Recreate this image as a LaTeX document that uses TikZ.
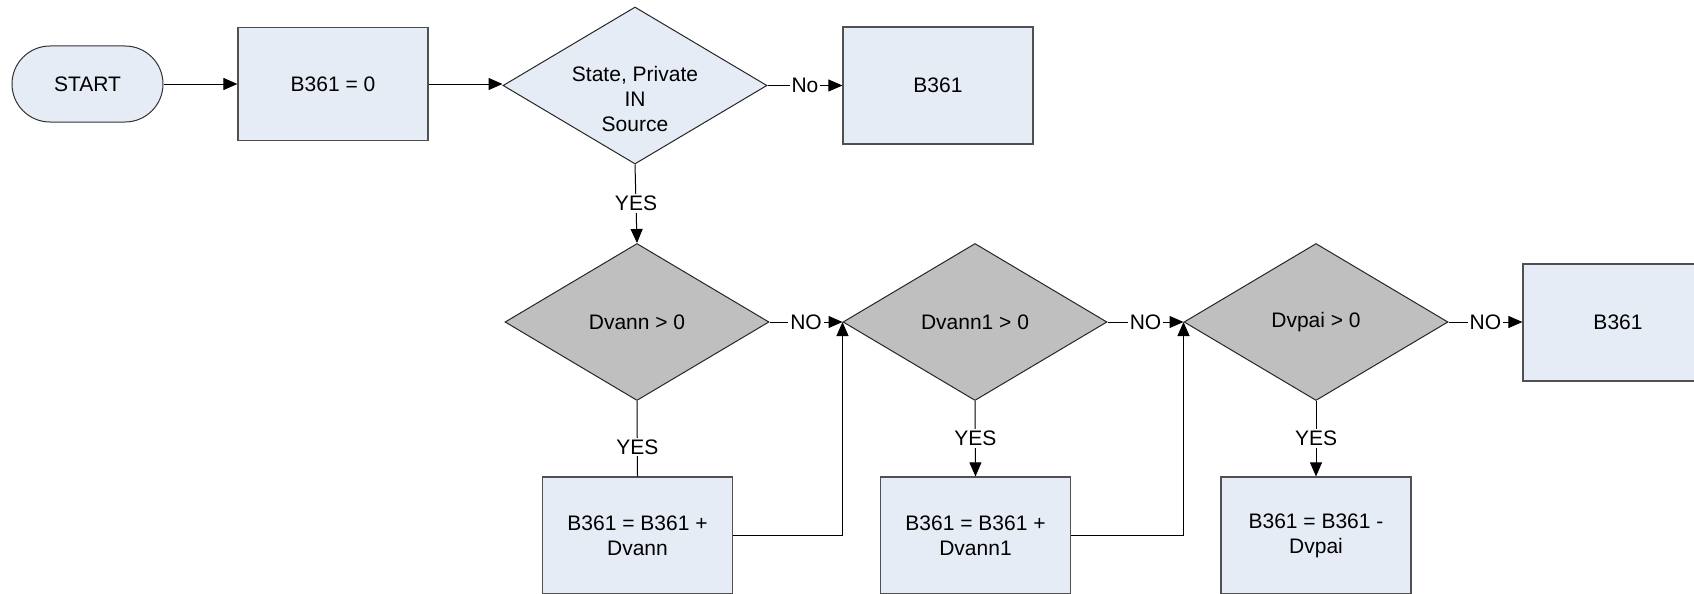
\documentclass[tikz,border=0pt]{standalone}
\usepackage{fontspec}
\setmainfont{Liberation Sans}
\usetikzlibrary{shapes.geometric,arrows.meta}
\definecolor{boxfill}{RGB}{230,236,246}
\definecolor{boxline}{RGB}{80,80,80}
\definecolor{decfill}{RGB}{191,191,191}
\begin{document}
\begin{tikzpicture}[x=1pt,y=-1pt,
  every node/.style={font=\fontsize{21pt}{25pt}\selectfont},
  proc/.style={draw=boxline,line width=1.2pt,fill=boxfill,minimum width=190pt,minimum height=115pt,inner sep=0pt,align=center},
  term/.style={draw=black!80,line width=1pt,fill=boxfill,rounded corners=38pt,minimum width=151pt,minimum height=76pt,inner sep=0pt},
  dec/.style={diamond,draw=black!85,line width=1pt,minimum width=264pt,minimum height=157pt,inner sep=0pt,aspect=1.68},
  decg/.style={dec,fill=decfill},
  decb/.style={dec,fill=boxfill},
  txt/.style={inner sep=0pt,align=center},
  arr/.style={line width=1pt,-{Triangle[length=14pt,width=12pt]}},
  ln/.style={line width=1pt},
  lbl/.style={fill=white,inner sep=2pt}
]
\useasboundingbox (0,0) rectangle (1694,594);
% top row
\node[term] (start) at (87.5,84) {START};
\node[proc,minimum height=113pt] (b0) at (333,84) {B361 = 0};
\node[decb] (d1) at (635,85.5) {};
\node[txt] (d1t) at (635,99) {State, Private\\IN\\Source};
\node[proc,minimum height=117pt] (b1) at (938,85.5) {B361};
% decisions row
\node[decg] (d2) at (637,322) {};
\node[txt] (d2t) at (d2.center) {Dvann > 0};
\node[decg] (d3) at (975,322) {};
\node[txt] (d3t) at (d3.center) {Dvann1 > 0};
\node[decg] (d4) at (1316,322) {};
\node[txt] (d4t) at (d4.center) {Dvpai > 0};
\node[proc,minimum height=117pt] (b5) at (1618,322.5) {B361};
% bottom boxes
\node[proc,minimum height=117pt] (p1) at (637.5,535.5) {B361 = B361 +\\Dvann};
\node[proc,minimum height=117pt] (p2) at (975.5,535.5) {B361 = B361 +\\Dvann1};
\node[proc,minimum height=117pt] (p3) at (1316,535.5) {B361 = B361 -\\Dvpai};
% connectors
\draw[arr] (start.east) -- (b0.west);
\draw[arr] (b0.east) -- (b0.east -| d1.west);
\draw[arr] (d1.east) -- node[lbl] (l1) {No} (d1.east -| b1.west);
\draw[arr] (d1.south) -- node[lbl] (l2) {YES} (d2.north);
\draw[arr] (d2.east) -- node[lbl] (l3) {NO} (d3.west);
\draw[arr] (d3.east) -- node[lbl] (l4) {NO} (d4.west);
\draw[arr] (d4.east) -- node[lbl] (l5) {NO} (d4.east -| b5.west);
\draw[ln] (d2.south) -- node[lbl,pos=0.61] (l6) {YES} (p1.north);
\draw[arr] (d3.south) -- node[lbl] (l7) {YES} (p2.north);
\draw[arr] (d4.south) -- node[lbl] (l8) {YES} (p3.north);
\draw[arr] (p1.east) -| (d3.west);
\draw[arr] (p2.east) -| (d4.west);
\end{tikzpicture}
\end{document}
